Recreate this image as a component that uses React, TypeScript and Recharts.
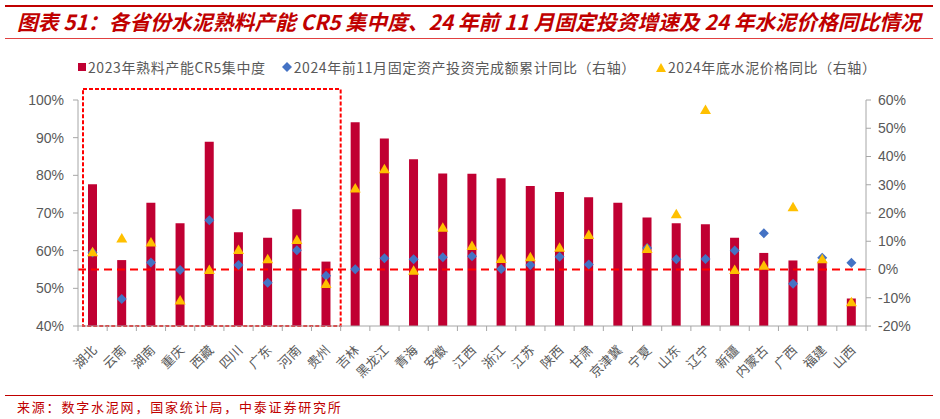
import { ComposedChart, Bar, Scatter, XAxis, YAxis, ReferenceLine, ReferenceArea } from 'recharts';

const provinces = ['湖北', '云南', '湖南', '重庆', '西藏', '四川', '广东', '河南', '贵州', '吉林', '黑龙江', '青海', '安徽', '江西', '浙江', '江苏', '陕西', '甘肃', '京津冀', '宁夏', '山东', '辽宁', '新疆', '内蒙古', '广西', '福建', '山西'];
const cr5 = [77.6, 57.5, 72.7, 67.3, 88.9, 64.9, 63.4, 71.0, 57.1, 94.1, 89.8, 84.3, 80.5, 80.4, 79.2, 77.2, 75.6, 74.2, 72.7, 68.8, 67.3, 67.0, 63.4, 59.4, 57.4, 57.1, 47.3];
const investGrowth = [6.0, -10.4, 2.5, -0.2, 17.4, 1.6, -4.7, 6.8, -2.2, 0.1, 4.0, 3.6, 4.3, 4.7, 0.2, 1.6, 4.5, 1.8, null, 7.6, 3.6, 3.7, 6.7, 12.8, -5.0, 4.2, 2.4];
const priceChange = [6.1, 11.0, 9.6, -11.0, -0.2, 6.9, 3.6, 10.4, -5.1, 28.7, 35.5, -0.4, 14.8, 8.3, 3.7, 4.3, 7.7, 12.2, null, 7.3, 19.6, 56.5, -0.2, 1.3, 22.0, 3.6, -11.6];

const leftTicks = [40, 50, 60, 70, 80, 90, 100];
const rightTicks = [-20, -10, 0, 10, 20, 30, 40, 50, 60];

const data = provinces.map((name, i) => ({
  name,
  cr5: cr5[i],
  invest: investGrowth[i],
  price: priceChange[i]
}));

const LATIN = '"Liberation Sans", Arial, "Noto Sans CJK SC", sans-serif';
const CJK = '"Noto Sans CJK SC", "Liberation Sans", sans-serif';
const RED = '#C00000';
const BAR = '#C00032';
const BLUE = '#4472C4';
const GOLD = '#FFC000';
const AXIS = '#A6A6A6';
const TEXT = '#595959';

const Diamond = (props: any) => {
  const { cx, cy, payload } = props;
  if (payload?.invest == null || cx == null || cy == null) return <g />;
  const r = 5;
  return <polygon points={`${cx},${cy - r} ${cx + r},${cy} ${cx},${cy + r} ${cx - r},${cy}`} fill={BLUE} />;
};

const Triangle = (props: any) => {
  const { cx, cy, payload } = props;
  if (payload?.price == null || cx == null || cy == null) return <g />;
  return <polygon points={`${cx},${cy - 5.5} ${cx + 5.5},${cy + 4} ${cx - 5.5},${cy + 4}`} fill={GOLD} />;
};

const XTick = (props: any) => {
  const { x, y, payload } = props;
  const half = payload?.offset || 14.6;
  const last = payload?.index === provinces.length - 1;
  return (
    <g>
      <line x1={x - half} x2={x - half} y1={y - 5} y2={y} stroke={AXIS} />
      {last && <line x1={x + half} x2={x + half} y1={y - 5} y2={y} stroke={AXIS} />}
      <text
        transform={`translate(${x + 5},${y + 20}) rotate(-45)`}
        textAnchor="end"
        fontSize={13}
        fill={TEXT}
        fontFamily={CJK}
      >
        {payload.value}
      </text>
    </g>
  );
};

const pct = (v: number) => `${v}%`;

export default function App() {
  return (
    <div style={{ position: 'absolute', left: 0, top: 0, width: 940, height: 419, background: '#fff', overflow: 'hidden' }}>
      {/* title block */}
      <div style={{ position: 'absolute', left: 5, top: 5, width: 928, height: 2, background: RED }} />
      <div
        style={{
          position: 'absolute',
          left: 17,
          top: 8,
          fontFamily: CJK,
          fontWeight: 700,
          fontStyle: 'italic',
          fontSize: 20.8,
          color: RED,
          whiteSpace: 'nowrap',
          lineHeight: '27px'
        }}
      >
        图表 51：各省份水泥熟料产能 CR5 集中度、24 年前 11 月固定投资增速及 24 年水泥价格同比情况
      </div>
      <div style={{ position: 'absolute', left: 5, top: 38, width: 928, height: 1, background: '#E04040' }} />

      {/* legend */}
      <div
        style={{
          position: 'absolute',
          left: 78,
          top: 58,
          display: 'flex',
          alignItems: 'center',
          fontFamily: CJK,
          fontSize: 14,
          letterSpacing: 0.6,
          color: TEXT,
          whiteSpace: 'nowrap',
          lineHeight: '18px'
        }}
      >
        <svg width={8} height={8} style={{ marginRight: 2 }}>
          <rect width={8} height={8} fill={BAR} />
        </svg>
        <span>2023年熟料产能CR5集中度</span>
        <svg width={10} height={10} style={{ marginLeft: 16, marginRight: 2 }}>
          <polygon points="5,0 10,5 5,10 0,5" fill={BLUE} />
        </svg>
        <span>2024年前11月固定资产投资完成额累计同比（右轴）</span>
        <svg width={10} height={9} style={{ marginLeft: 20, marginRight: 2 }}>
          <polygon points="5,0 10,9 0,9" fill={GOLD} />
        </svg>
        <span>2024年底水泥价格同比（右轴）</span>
      </div>

      <div style={{ position: 'absolute', left: 0, top: 0 }}>
        <ComposedChart width={940} height={419} data={data} margin={{ top: 100, right: 0, bottom: 0, left: 0 }}>
          <XAxis
            dataKey="name"
            interval={0}
            height={93}
            tickLine={false}
            tickSize={5}
            tickMargin={0}
            axisLine={{ stroke: AXIS }}
            tick={<XTick />}
          />
          <YAxis
            yAxisId="left"
            width={78}
            domain={[40, 100]}
            ticks={leftTicks}
            tickFormatter={pct}
            allowDataOverflow
            axisLine={{ stroke: AXIS }}
            tickLine={{ stroke: AXIS }}
            tickSize={5}
            tickMargin={9}
            tick={{ fill: TEXT, fontSize: 14, fontFamily: LATIN }}
          />
          <YAxis
            yAxisId="right"
            orientation="right"
            width={74}
            domain={[-20, 60]}
            ticks={rightTicks}
            tickFormatter={pct}
            allowDataOverflow
            axisLine={{ stroke: AXIS }}
            tickLine={{ stroke: AXIS }}
            tickSize={5}
            tickMargin={7}
            tick={{ fill: TEXT, fontSize: 14, fontFamily: LATIN, textAnchor: 'start' }}
          />
          <ReferenceArea
            yAxisId="left"
            x1="湖北"
            x2="贵州"
            y1={40}
            y2={102.9}
            ifOverflow="visible"
            shape={(p: any) => (
              <rect
                x={p.x + 5}
                y={p.y}
                width={p.width - 5}
                height={p.height}
                fill="none"
                stroke="#FF0000"
                strokeWidth={2}
                strokeDasharray="4 2"
              />
            )}
          />
          <Bar yAxisId="left" dataKey="cr5" fill={BAR} barSize={9} isAnimationActive={false} />
          <ReferenceLine yAxisId="right" y={0} stroke="#FF0000" strokeWidth={2} strokeDasharray="8 5" />
          <Scatter yAxisId="right" dataKey="invest" shape={Diamond} isAnimationActive={false} />
          <Scatter yAxisId="right" dataKey="price" shape={Triangle} isAnimationActive={false} />
        </ComposedChart>
      </div>

      {/* source */}
      <div style={{ position: 'absolute', left: 5, top: 395, width: 928, height: 1, background: RED }} />
      <div
        style={{
          position: 'absolute',
          left: 17,
          top: 399,
          fontFamily: CJK,
          fontSize: 13,
          letterSpacing: 1.8,
          color: RED,
          whiteSpace: 'nowrap',
          lineHeight: '16px'
        }}
      >
        来源：数字水泥网，国家统计局，中泰证券研究所
      </div>
    </div>
  );
}
